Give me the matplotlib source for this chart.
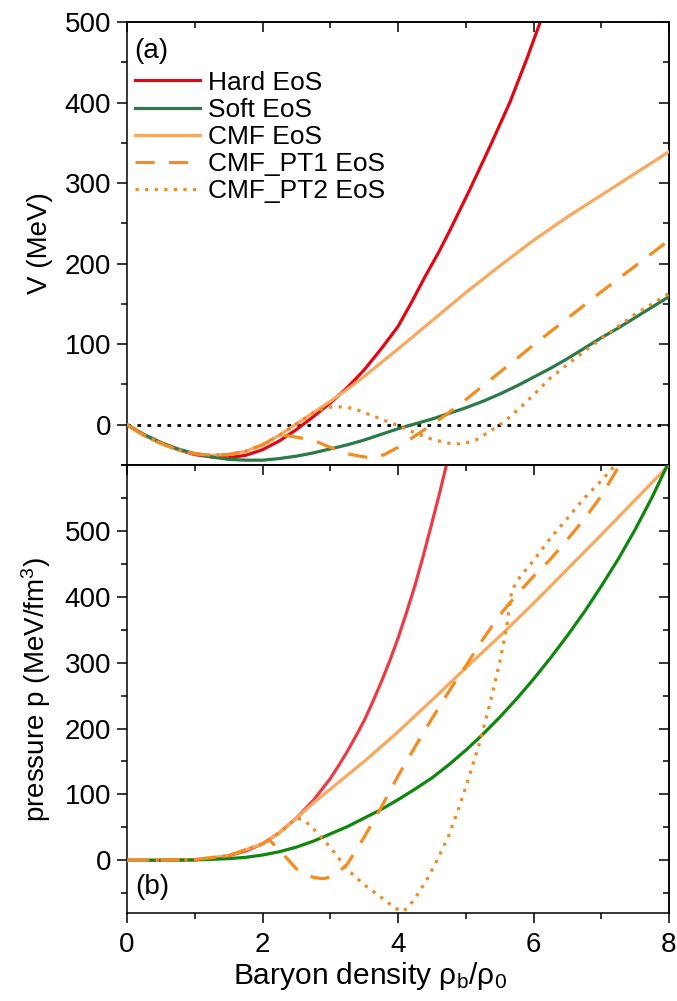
import matplotlib
matplotlib.use("Agg")
import matplotlib.pyplot as plt
from matplotlib.ticker import MultipleLocator

plt.rcParams['font.family'] = ['Liberation Sans', 'DejaVu Sans']
plt.rcParams['mathtext.fontset'] = 'custom'
plt.rcParams['mathtext.rm'] = 'Liberation Sans'
plt.rcParams['mathtext.it'] = 'Liberation Sans:italic'

# ---------------- data: panel (a) potential V (MeV) ----------------
rho_hard_V = [0, 0.25, 0.5, 0.75, 1.0, 1.25, 1.5, 1.75, 2.0, 2.25, 2.5, 2.75, 3.0, 3.25,
              3.5, 3.75, 4.0, 4.2, 4.4, 4.6, 4.77, 5.06, 5.36, 5.65, 5.9, 6.1, 6.2]
V_hard = [0, -13, -23, -31, -37, -40, -41, -38, -31, -20, -6, 10, 27, 46,
          68, 94, 122, 152, 184, 214, 242, 292, 346, 400, 454, 500, 525]

rho_soft_V = [0, 0.25, 0.5, 0.75, 1.0, 1.25, 1.5, 1.75, 2.0, 2.25, 2.5, 2.75, 3.0, 3.25, 3.5,
              3.75, 4.0, 4.25, 4.5, 4.75, 5.0, 5.25, 5.5, 5.75, 6.0, 6.25, 6.5, 6.75, 7.0,
              7.25, 7.5, 7.75, 8.0]
V_soft = [0, -12, -22, -30, -36, -40, -43, -44, -44, -42, -39, -35, -30, -25, -19,
          -12, -5, 1, 7, 14, 21, 29, 38, 48, 59, 70, 82, 95, 108,
          120, 133, 146, 159]

rho_cmf_V = [0, 0.25, 0.5, 0.75, 1.0, 1.25, 1.5, 1.75, 2.0, 2.25, 2.5, 2.75, 3.0, 3.25, 3.5,
             3.75, 4.0, 4.5, 5.0, 5.5, 6.0, 6.5, 7.0, 7.5, 8.0]
V_cmf = [0, -13, -23, -31, -36, -38, -37, -33, -25, -13, 1, 15, 29, 44, 60,
         77, 94, 129, 164, 197, 229, 258, 285, 312, 339]

rho_pt1_V = [0, 0.25, 0.5, 0.75, 1.0, 1.25, 1.5, 1.75, 2.0, 2.25, 2.4, 2.6, 2.8, 3.0, 3.25,
             3.5, 3.65, 3.8, 4.0, 4.25, 4.5, 4.75, 5.0, 5.25, 5.5, 5.75, 6.0, 6.5, 7.0,
             7.5, 8.0]
V_pt1 = [0, -13, -23, -31, -36, -38, -37, -33, -25, -13, -14, -17, -21, -28, -36,
         -40, -41, -37, -28, -14, 0, 15, 31, 48, 65, 82, 99, 132, 165,
         197, 229]

rho_pt2_V = [0, 0.25, 0.5, 0.75, 1.0, 1.25, 1.5, 1.75, 2.0, 2.25, 2.5, 2.75, 2.9, 3.05, 3.2,
             3.35, 3.5, 3.75, 4.0, 4.25, 4.5, 4.75, 4.95, 5.15, 5.3, 5.45, 5.6, 5.8, 6.0,
             6.25, 6.5, 6.75, 7.0, 7.25, 7.5, 7.75, 8.0]
V_pt2 = [0, -13, -23, -31, -36, -38, -37, -33, -25, -13, 1, 15, 20, 22.5, 22,
         20, 15, 7, -1, -10, -18, -23, -24, -19, -11, -3, 6, 21, 37,
         58, 75, 91, 107, 122, 137, 150, 163]

# ---------------- data: panel (b) pressure (MeV/fm^3) ----------------
rho_hard_p = [0, 0.5, 1.0, 1.25, 1.5, 1.75, 2.0, 2.25, 2.5, 2.75, 3.0, 3.125, 3.25, 3.375,
              3.5, 3.625, 3.75, 3.875, 4.0, 4.125, 4.25, 4.375, 4.5, 4.625, 4.75]
p_hard = [0, 0, 1, 3, 7, 14, 25, 42, 64, 91, 124, 144, 165, 188,
          212, 240, 270, 302, 337, 376, 417, 463, 512, 562, 615]

rho_soft_p = [0, 0.5, 1.0, 1.5, 1.75, 2.0, 2.25, 2.5, 2.75, 3.0, 3.25, 3.5, 3.75, 4.0, 4.25,
              4.5, 4.75, 5.0, 5.25, 5.5, 5.75, 6.0, 6.25, 6.5, 6.75, 7.0, 7.25, 7.5, 7.75, 8.0]
p_soft = [0, 0, 0.5, 2.5, 4.5, 8, 13, 20, 29, 40, 51, 64, 77, 92, 108,
          125, 145, 167, 191, 217, 245, 275, 307, 341, 377, 416, 457, 502, 551, 605]

rho_cmf_p = [0, 0.5, 1.0, 1.5, 2.0, 2.25, 2.5, 2.75, 3.0, 3.5, 4.0, 4.5, 5.0, 5.5, 6.0,
             6.5, 7.0, 7.5, 8.0]
p_cmf = [0, 0, 1, 7, 25, 42, 64, 87, 108, 150, 195, 243, 292, 340, 390,
         442, 494, 547, 600]

rho_pt1_p = [0, 0.5, 1.0, 1.5, 2.0, 2.1, 2.3, 2.5, 2.75, 2.9, 3.05, 3.25, 3.5, 3.75, 4.0,
             4.25, 4.5, 4.75, 5.0, 5.25, 5.5, 5.75, 6.0, 6.25, 6.5, 6.75, 7.0, 7.3]
p_pt1 = [0, 0, 1, 7, 25, 31, 10, -13, -26, -28, -24, -6, 35, 80, 128,
         172, 215, 256, 295, 335, 372, 403, 431, 457, 487, 518, 553, 605]

rho_pt2_p = [0, 0.5, 1.0, 1.5, 2.0, 2.25, 2.5, 2.6, 2.75, 3.0, 3.25, 3.5, 3.75, 3.95, 4.05,
             4.15, 4.3, 4.45, 4.6, 4.75, 4.9, 5.05, 5.2, 5.35, 5.5, 5.6, 5.68, 5.8, 6.0,
             6.25, 6.5, 6.75, 7.0, 7.25]
p_pt2 = [0, 0, 1, 7, 25, 42, 64, 62, 48, 20, -14, -37, -56, -72, -78,
         -72, -50, -25, 5, 38, 80, 127, 177, 235, 300, 352, 410, 430, 455,
         489, 519, 550, 576, 605]

labels = ['Hard EoS', 'Soft EoS', 'CMF EoS', 'CMF_PT1 EoS', 'CMF_PT2 EoS']
xticks = [0, 2, 4, 6, 8]
yticks = [0, 100, 200, 300, 400, 500]

# colours
c_hard_a, c_hard_b = '#e30613', '#ec3b45'
c_soft_a, c_soft_b = '#2b7a48', '#0f870f'
c_cmf = '#f9a95f'
c_pt1 = '#f68b1f'
c_pt2 = '#ef8a2a'

FS = 20
lw = 2.3

fig = plt.figure(figsize=(6.77, 10.01), dpi=100)
L, R = 127 / 677, 669 / 677
ax1 = fig.add_axes([L, 1 - 465 / 1001, R - L, (465 - 22) / 1001])
ax2 = fig.add_axes([L, 1 - 913 / 1001, R - L, (913 - 465) / 1001])


def style(ax, ylim, ylabel, show_x):
    ax.set_xlim(0, 8)
    ax.set_ylim(*ylim)
    ax.set_xticks(xticks)
    ax.set_yticks(yticks)
    ax.xaxis.set_minor_locator(MultipleLocator(1))
    ax.yaxis.set_minor_locator(MultipleLocator(50))
    ax.tick_params(which='major', direction='out', length=7.5, width=1.1,
                   labelsize=FS, pad=4)
    ax.tick_params(which='minor', direction='out', length=4, width=1.1)
    ax.tick_params(axis='x', labelbottom=show_x, pad=6)
    for s in ax.spines.values():
        s.set_linewidth(1.1)
    secx = ax.secondary_xaxis('top')
    secy = ax.secondary_yaxis('right')
    for sec, axis in ((secx, 'x'), (secy, 'y')):
        if axis == 'x':
            sec.set_xticks(xticks)
            sec.xaxis.set_minor_locator(MultipleLocator(1))
        else:
            sec.set_yticks(yticks)
            sec.yaxis.set_minor_locator(MultipleLocator(50))
        sec.tick_params(which='major', direction='in', length=7.5, width=1.1)
        sec.tick_params(which='minor', direction='in', length=4, width=1.1)
        sec.tick_params(labeltop=False, labelright=False, labelbottom=False, labelleft=False)
        for s in sec.spines.values():
            s.set_linewidth(1.1)
    ax.set_ylabel(ylabel, fontsize=FS, labelpad=8)


# ---- panel (a)
ax1.axhline(0, color='black', lw=2.0, dashes=(1.3, 2.3), zorder=1)
ax1.plot(rho_hard_V, V_hard, color=c_hard_a, lw=lw, label=labels[0], zorder=2)
ax1.plot(rho_cmf_V, V_cmf, color=c_cmf, lw=lw, label=labels[2], zorder=3)
ax1.plot(rho_soft_V, V_soft, color=c_soft_a, lw=lw, label=labels[1], zorder=4)
ax1.plot(rho_pt1_V, V_pt1, color=c_pt1, lw=lw, dashes=(6, 4.5), label=labels[3], zorder=5)
ax1.plot(rho_pt2_V, V_pt2, color=c_pt2, lw=lw, dashes=(1, 2), label=labels[4], zorder=6)
style(ax1, (-50, 500), 'V (MeV)', False)
ax1.text(0.013, 0.935, '(a)', transform=ax1.transAxes, fontsize=FS, va='center', ha='left')

h, l = ax1.get_legend_handles_labels()
order = [l.index(s) for s in labels]
ax1.legend([h[i] for i in order], [l[i] for i in order], loc='upper left',
           bbox_to_anchor=(0.015, 0.89), frameon=False, fontsize=19,
           handlelength=2.45, handletextpad=0.3, labelspacing=0.12,
           borderpad=0, borderaxespad=0)

# ---- panel (b)
ax2.plot(rho_hard_p, p_hard, color=c_hard_b, lw=lw, zorder=2)
ax2.plot(rho_cmf_p, p_cmf, color=c_cmf, lw=lw, zorder=3)
ax2.plot(rho_soft_p, p_soft, color=c_soft_b, lw=lw, zorder=4)
ax2.plot(rho_pt1_p, p_pt1, color=c_pt1, lw=lw, dashes=(6, 4.5), zorder=5)
ax2.plot(rho_pt2_p, p_pt2, color=c_pt2, lw=lw, dashes=(1, 2), zorder=6)
style(ax2, (-80, 600), 'pressure p (MeV/fm$^3$)', True)
ax2.text(0.015, 0.058, '(b)', transform=ax2.transAxes, fontsize=FS, va='center', ha='left')
ax2.set_xlabel('Baryon density ρ$_\\mathrm{b}$/ρ$_0$', fontsize=21.5)
ax2.xaxis.set_label_coords(0.448, -0.105)

fig.savefig('out.png', dpi=100)
